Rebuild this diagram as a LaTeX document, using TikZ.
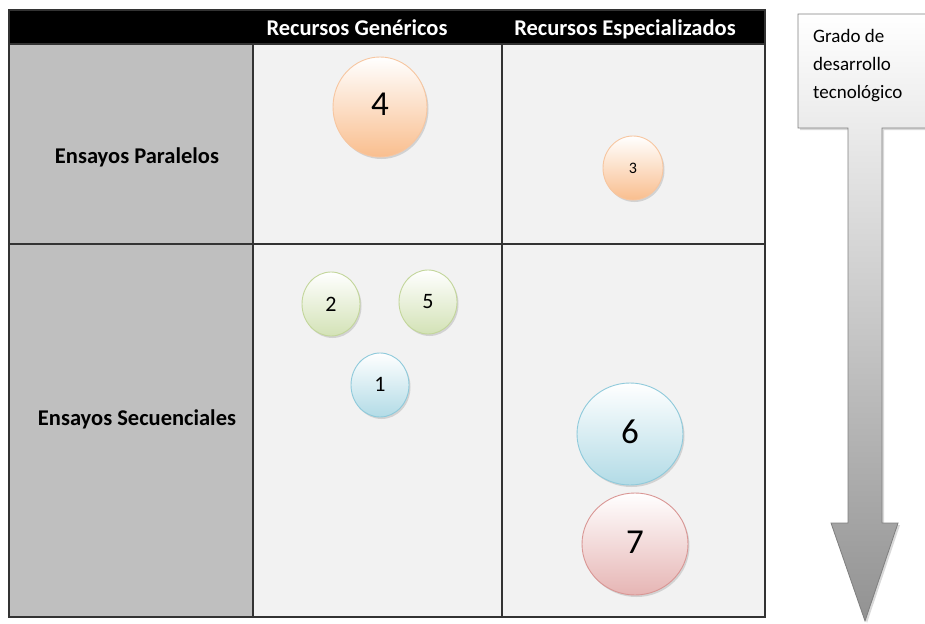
\documentclass[tikz,border=0pt]{standalone}
\usepackage{fontspec}
\setmainfont{Carlito}
\usetikzlibrary{shapes.geometric,shadows}
\definecolor{cellbg}{HTML}{F2F2F2}
\definecolor{labelbg}{HTML}{BFBFBF}
\definecolor{gridline}{HTML}{333333}
\definecolor{peachfill}{HTML}{F9BE8E}
\definecolor{peachline}{HTML}{F7C6A0}
\definecolor{greenfill}{HTML}{D3E2B6}
\definecolor{greenline}{HTML}{C3D69B}
\definecolor{bluefill}{HTML}{B2DBE6}
\definecolor{blueline}{HTML}{8FCADB}
\definecolor{redfill}{HTML}{E6B5B4}
\definecolor{redline}{HTML}{D99694}
\definecolor{arrowline}{HTML}{7F7F7F}
\definecolor{arrowbottom}{HTML}{929292}
\tikzset{
  bubble/.style={ellipse, inner sep=0pt, line width=0.9pt, top color=white,
    drop shadow={opacity=0.28, shadow xshift=1.5pt, shadow yshift=-2pt}},
  peachball/.style={bubble, bottom color=peachfill, draw=peachline},
  greenball/.style={bubble, bottom color=greenfill, draw=greenline},
  blueball/.style={bubble, bottom color=bluefill, draw=blueline},
  redball/.style={bubble, bottom color=redfill, draw=redline},
  headtext/.style={text=white, anchor=base, font=\bfseries\fontsize{22.5}{26}\selectfont, inner sep=0pt},
  rowtext/.style={text=black, anchor=base, font=\bfseries\fontsize{22.5}{26}\selectfont, inner sep=0pt},
  gridpen/.style={draw=gridline, line width=1.4pt},
}
\begin{document}
\begin{tikzpicture}[x=1pt,y=-1pt]
\useasboundingbox (0,0) rectangle (925,623);
\clip (0,0) rectangle (925,623);
% table backgrounds
\fill[labelbg] (9,44) rectangle (253,617);
\fill[cellbg] (253,44) rectangle (765,617);
\fill[black] (9,10) rectangle (765,44);
% grid
\draw[gridpen] (9,10) rectangle (765,617);
\draw[gridpen] (9,44) -- (765,44);
\draw[gridpen] (9,244) -- (765,244);
\draw[gridpen] (253,44) -- (253,617);
\draw[gridpen] (502,44) -- (502,617);
% headers
\node[headtext] (hgen) at (357,36) {Recursos Genéricos};
\node[headtext] (hesp) at (625,36) {Recursos Especializados};
\node[rowtext] (rpar) at (137,163) {Ensayos Paralelos};
\node[rowtext] (rsec) at (137,425) {Ensayos Secuenciales};
% bubbles
\node[peachball, minimum width=94pt, minimum height=100pt, font=\fontsize{35}{36}\selectfont] (b4) at (380,107) {\raisebox{5pt}{4}};
\node[peachball, minimum width=60pt, minimum height=64pt, font=\fontsize{16}{18}\selectfont] (b3) at (633,168) {3};
\node[greenball, minimum width=58pt, minimum height=64pt, font=\fontsize{22}{24}\selectfont] (b2) at (331,304) {2};
\node[greenball, minimum width=58pt, minimum height=64pt, font=\fontsize{22}{24}\selectfont] (b5) at (428,302) {5};
\node[blueball, minimum width=58pt, minimum height=64pt, font=\fontsize{22}{24}\selectfont] (b1) at (380,385) {\raisebox{2pt}{1}};
\node[blueball, minimum width=106pt, minimum height=102pt, font=\fontsize{35}{36}\selectfont] (b6) at (630,434) {\raisebox{4pt}{6}};
\node[redball, minimum width=106pt, minimum height=102pt, font=\fontsize{35}{36}\selectfont] (b7) at (635,544) {\raisebox{4pt}{7}};
% callout arrow
\path[draw=arrowline, line width=0.8pt, top color=white, bottom color=arrowbottom,
  drop shadow={opacity=0.3, shadow xshift=2pt, shadow yshift=-2pt}]
  (798,14) -- (934,14) -- (934,128) -- (882,128) -- (882,523) -- (898,523)
  -- (865,621) -- (831,523) -- (848,523) -- (848,128) -- (798,128) -- cycle;
\node[anchor=north west, inner sep=0pt, align=left, font=\fontsize{19}{28}\selectfont] (grado) at (813,29) {Grado de\\desarrollo\\tecnológico};
\end{tikzpicture}
\end{document}
